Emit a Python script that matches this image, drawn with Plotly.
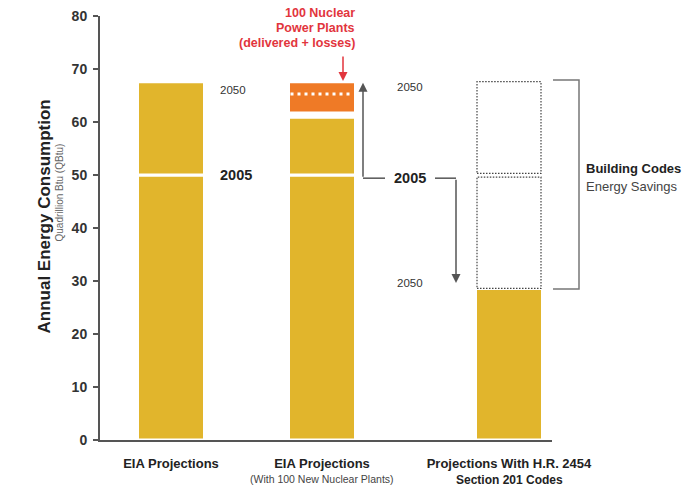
import plotly.graph_objects as go

# Category labels: titles (x tick text) and their second lines
category_titles = ["EIA Projections", "EIA Projections", "Projections With H.R. 2454"]
category_subtitles = ["", "(With 100 New Nuclear Plants)", "Section 201 Codes"]

# Annual energy consumption values, quadrillion Btu
year_2005 = 50.0
eia_2050 = 67.6
eia_other_2050 = 60.9        # non-nuclear part of the nuclear scenario
nuclear_low = 61.7           # nuclear block (delivered + losses)
nuclear_high = 67.6
nuclear_delivered = 65.3
codes_2050 = 28.6

y_ticks = [0, 10, 20, 30, 40, 50, 60, 70, 80]

# Layout helpers
positions = [71, 222, 409]
bar_width = 67
x_range = [0, 452]
y_range = [0, 80]
L, R, T, B = 100, 145, 16, 47
W, H = 697, 487

YELLOW = "#e1b52c"
ORANGE = "#ef7a26"
RED = "#e2353d"
GREY = "#555555"
SANS = "Liberation Sans, Arial, sans-serif"


def px_x(px):
    return (px - L) / (W - L - R)


def px_y(py):
    return (H - B - py) / (H - T - B)


fig = go.Figure()

bar_line = dict(color="white", width=3)

fig.add_trace(go.Bar(
    x=positions, y=[year_2005, year_2005, codes_2050], base=0,
    width=bar_width, marker=dict(color=YELLOW, line=bar_line),
    hoverinfo="skip", showlegend=False))

fig.add_trace(go.Bar(
    x=positions[:2], y=[eia_2050 - year_2005, eia_other_2050 - year_2005],
    base=year_2005, width=bar_width,
    marker=dict(color=YELLOW, line=bar_line),
    hoverinfo="skip", showlegend=False))

fig.add_trace(go.Bar(
    x=[positions[1]], y=[nuclear_high - nuclear_low], base=nuclear_low,
    width=bar_width, marker=dict(color=ORANGE, line=bar_line),
    hoverinfo="skip", showlegend=False))

# dotted white line inside the nuclear block
half = bar_width / 2 - 2
fig.add_trace(go.Scatter(
    x=[positions[1] - half, positions[1] + half],
    y=[nuclear_delivered, nuclear_delivered],
    mode="lines", line=dict(color="white", width=3, dash="3px,4px"),
    hoverinfo="skip", showlegend=False))

shapes = []
# dotted outlines of the savings relative to EIA projection
bx0 = positions[2] - bar_width / 2 + 1.5
bx1 = positions[2] + bar_width / 2 - 1.5
for y0, y1 in [(year_2005 + 0.3, eia_2050), (codes_2050, year_2005 - 0.4)]:
    shapes.append(dict(type="rect", xref="x", yref="y", x0=bx0, x1=bx1, y0=y0, y1=y1,
                       line=dict(color="#444", width=1.2, dash="1.5px,1.5px")))

# connector lines around the central 2005 label
y_conn = year_2005 - 0.6
shapes.append(dict(type="line", xref="x", yref="y", x0=263, x1=285, y0=y_conn, y1=y_conn,
                   line=dict(color=GREY, width=1.5)))
shapes.append(dict(type="line", xref="x", yref="y", x0=335, x1=356, y0=y_conn, y1=y_conn,
                   line=dict(color=GREY, width=1.5)))

# bracket for building-code savings
shapes.append(dict(type="path", xref="paper", yref="paper",
                   path=f"M {px_x(553)},{px_y(80)} L {px_x(579)},{px_y(80)} "
                        f"L {px_x(579)},{px_y(289)} L {px_x(553)},{px_y(289)}",
                   line=dict(color="#777", width=1.5)))

annotations = []
# up / down arrows
annotations.append(dict(x=263, y=eia_2050 - 0.2, ax=263, ay=y_conn, xref="x", yref="y",
                        axref="x", ayref="y", text="", showarrow=True, arrowhead=2,
                        arrowsize=1.2, arrowwidth=1.5, arrowcolor=GREY))
annotations.append(dict(x=356, y=codes_2050 + 1.0, ax=356, ay=y_conn, xref="x", yref="y",
                        axref="x", ayref="y", text="", showarrow=True, arrowhead=2,
                        arrowsize=1.2, arrowwidth=1.5, arrowcolor=GREY))


def label(text, x, y, size, color="#333", bold=False, xanchor="center", xref="paper", yref="paper"):
    annotations.append(dict(
        x=x, y=y, xref=xref, yref=yref, text=f"<b>{text}</b>" if bold else text,
        showarrow=False, xanchor=xanchor, yanchor="middle",
        font=dict(family=SANS, size=size, color=color)))


label("2050", px_x(233), px_y(90), 11.5)
label("2005", px_x(236), px_y(175), 14.5, color="#222", bold=True)
label("2050", px_x(410), px_y(87), 11.5)
label("2005", px_x(410), px_y(178), 14.5, color="#222", bold=True)
label("2050", px_x(410), px_y(283), 11.5)
label("Building Codes", px_x(584), px_y(169), 13, color="#222", bold=True, xanchor="left")
label("Energy Savings", px_x(584), px_y(186), 13, color="#444", xanchor="left")

for text, py in [("100 Nuclear", 13), ("Power Plants", 28), ("(delivered + losses)", 43)]:
    label(text, px_x(357), px_y(py), 12.5, color=RED, bold=True, xanchor="right")

annotations.append(dict(x=px_x(343), y=px_y(81), xref="paper", yref="paper", ax=0, ay=-26,
                        text="", showarrow=True, arrowhead=2, arrowsize=1.2,
                        arrowwidth=1.5, arrowcolor=RED))

# second lines of the category labels
sub_styles = [None, dict(size=10.5, color="#444", bold=False, py=479),
              dict(size=12, color="#222", bold=True, py=479.5)]
for pos, sub, st in zip(positions, category_subtitles, sub_styles):
    if sub and st:
        label(sub, px_x(L + pos), px_y(st["py"]), st["size"], color=st["color"], bold=st["bold"])

# y-axis title (two independent lines)
annotations.append(dict(x=px_x(32), y=px_y(217), xref="paper", yref="paper",
                        text="<b>Annual Energy Consumption</b>", textangle=-90,
                        showarrow=False, font=dict(family=SANS, size=17, color="#222")))
annotations.append(dict(x=px_x(51), y=px_y(193), xref="paper", yref="paper",
                        text="Quadrillion Btu (QBtu)", textangle=-90,
                        showarrow=False, font=dict(family=SANS, size=10, color="#666")))

fig.update_layout(
    width=W, height=H,
    margin=dict(l=L, r=R, t=T, b=B, pad=0, autoexpand=False),
    paper_bgcolor="white", plot_bgcolor="white",
    barmode="overlay",
    shapes=shapes, annotations=annotations,
    xaxis=dict(range=x_range, tickvals=positions,
               ticktext=[f"<b>{t}</b>" for t in category_titles],
               showline=True, linecolor=GREY, linewidth=2, ticks="",
               showgrid=False, zeroline=False, ticklabelstandoff=10, automargin=False,
               tickfont=dict(family=SANS, size=13, color="#222"), fixedrange=True),
    yaxis=dict(range=y_range, tickvals=y_ticks, showline=True, linecolor=GREY, linewidth=2,
               ticks="outside", ticklen=5, tickwidth=1.5, tickcolor=GREY,
               showgrid=False, zeroline=False, ticklabelstandoff=3, automargin=False,
               tickfont=dict(family=SANS, size=14, color="#333", weight="bold"),
               fixedrange=True),
)

fig.write_html("out.html")
